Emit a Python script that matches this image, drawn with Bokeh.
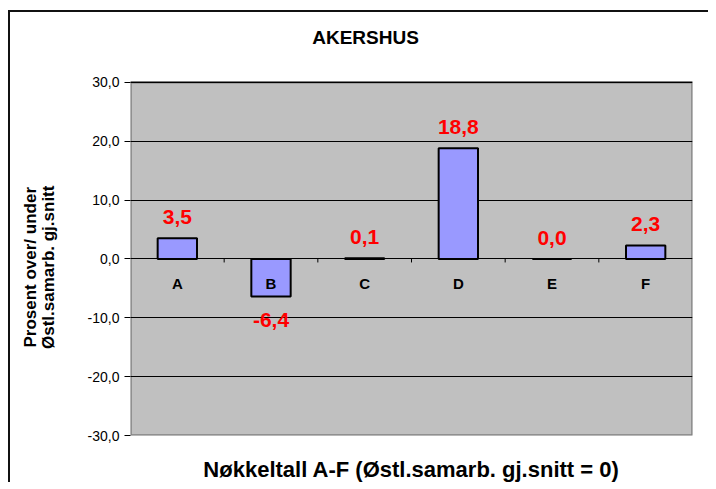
from bokeh.plotting import figure
from bokeh.models import FixedTicker
from bokeh.core.properties import value
from bokeh.embed import file_html
from bokeh.resources import INLINE

title_text = "AKERSHUS"
y_title_lines = ["Prosent over/ under", "Østl.samarb. gj.snitt"]
x_title = "Nøkkeltall A-F (Østl.samarb. gj.snitt = 0)"
categories = ["A", "B", "C", "D", "E", "F"]
values = [3.5, -6.4, 0.1, 18.8, 0.0, 2.3]
value_labels = ["3,5", "-6,4", "0,1", "18,8", "0,0", "2,3"]
y_ticks = [-30, -20, -10, 0, 10, 20, 30]
y_tick_labels = ["-30,0", "-20,0", "-10,0", "0,0", "10,0", "20,0", "30,0"]

FONT = "Liberation Sans"
Y_MIN, Y_MAX = -30, 30
Y_TOP = 40          # extra room above the plot area for the title
N = len(categories)

p = figure(width=700, height=472, x_range=(0, N), y_range=(Y_MIN, Y_TOP),
           output_backend="svg", toolbar_location=None,
           min_border_left=120, min_border_right=18, min_border_top=11, min_border_bottom=48,
           styles={"border-top": "2px solid #111", "border-left": "2px solid #111",
                   "margin-top": "10px", "margin-left": "8px"})

p.background_fill_color = "white"
p.border_fill_color = "white"
p.outline_line_color = None

# grey plot area
p.quad(left=0, right=N, bottom=Y_MIN, top=Y_MAX, fill_color="#C0C0C0",
       line_color="#808080", line_width=2.5, level="image")

# title
px_per_unit = 354 / (Y_MAX - Y_MIN)
p.text(x=[N / 2 - 46 / 93.7], y=[Y_MAX + 45 / px_per_unit], text=[title_text],
       text_align="center", text_baseline="middle",
       text_font=value(FONT), text_font_size="19px", text_font_style="bold", text_color="black")

# grid
p.xgrid.visible = False
p.ygrid.ticker = FixedTicker(ticks=y_ticks)
p.ygrid.grid_line_color = "#000000"
p.ygrid.grid_line_width = 1

# y axis
p.yaxis.bounds = (Y_MIN, Y_MAX)
p.yaxis.ticker = FixedTicker(ticks=y_ticks)
p.yaxis.major_label_overrides = {t: l for t, l in zip(y_ticks, y_tick_labels)}
p.yaxis.major_label_text_font = FONT
p.yaxis.major_label_text_font_size = "14px"
p.yaxis.major_label_text_color = "black"
p.yaxis.major_tick_in = 0
p.yaxis.major_tick_out = 6
p.yaxis.minor_tick_line_color = None
p.yaxis.axis_line_color = None
p.yaxis.major_tick_line_color = "black"
# trailing no-break spaces centre the label on the grey area rather than the whole frame
pad = "\u00a0" * 16
p.yaxis.axis_label = "\n".join(line + pad for line in y_title_lines)
p.yaxis.axis_label_text_font = FONT
p.yaxis.axis_label_text_font_size = "17px"
p.yaxis.axis_label_text_font_style = "bold"
p.yaxis.axis_label_text_color = "black"
p.yaxis.axis_label_text_line_height = 0.95
p.yaxis.axis_label_standoff = 27

# x axis (title only)
p.xaxis.ticker = FixedTicker(ticks=[])
p.xaxis.axis_line_color = None
p.xaxis.major_tick_line_color = None
p.xaxis.minor_tick_line_color = None
p.xaxis.major_tick_out = 0
p.xaxis.axis_label = x_title
p.xaxis.axis_label_text_font = FONT
p.xaxis.axis_label_text_font_size = "22px"
p.xaxis.axis_label_text_font_style = "bold"
p.xaxis.axis_label_text_color = "black"
p.xaxis.axis_label_standoff = 21

xs = [i + 0.5 for i in range(N)]

# category tick marks on the zero line
bounds = list(range(1, N))
p.segment(x0=bounds, y0=[0] * len(bounds), x1=bounds, y1=[-0.6] * len(bounds),
          line_color="black", line_width=1)

# bars
p.vbar(x=xs, top=values, bottom=0, width=0.42, fill_color="#9999FF",
       line_color="black", line_width=2)

# category labels
p.text(x=xs, y=[-4.2] * N, text=categories, text_align="center", text_baseline="middle",
       text_font=value(FONT), text_font_size="15px", text_font_style="bold", text_color="black")

# value labels
label_y = [v + 3.6 if v >= 0 else v - 4.0 for v in values]
p.text(x=xs, y=label_y, text=value_labels, text_align="center", text_baseline="middle",
       text_font=value(FONT), text_font_size="21px", text_font_style="bold", text_color="#FF0000")

open("out.html", "w").write(file_html(p, INLINE))
